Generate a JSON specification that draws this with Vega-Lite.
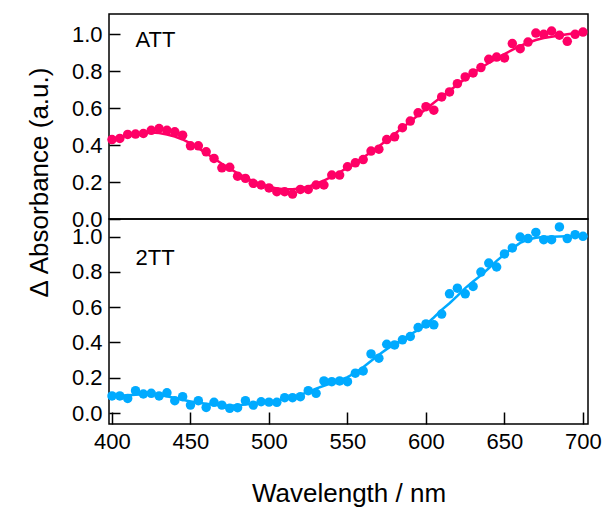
{
  "$schema": "https://vega.github.io/schema/vega-lite/v6.json",
  "autosize": "none",
  "padding": {"left": 109, "top": 14, "right": 495, "bottom": 493},
  "spacing": 0,
  "bounds": "flush",
  "config": {
    "view": {"stroke": "black", "strokeWidth": 1.5},
    "axis": {
      "labelFont": "Liberation Sans", "labelFontSize": 22, "labelColor": "black",
      "titleFont": "Liberation Sans", "titleFontSize": 26, "titleFontWeight": "normal", "titleColor": "black",
      "tickColor": "black", "tickWidth": 1.5, "tickSize": -11, "labelPadding": 18,
      "grid": false, "domain": false, "labelFlush": false, "labelOverlap": false
    },
    "text": {"font": "Liberation Sans"}
  },
  "datasets": {
    "att": [
      {"wl": 400, "v": 0.43}, {"wl": 405, "v": 0.436}, {"wl": 410, "v": 0.458}, {"wl": 415, "v": 0.46}, {"wl": 420, "v": 0.463},
      {"wl": 425, "v": 0.48}, {"wl": 430, "v": 0.49}, {"wl": 435, "v": 0.48}, {"wl": 440, "v": 0.472}, {"wl": 445, "v": 0.454},
      {"wl": 450, "v": 0.396}, {"wl": 455, "v": 0.396}, {"wl": 460, "v": 0.364}, {"wl": 465, "v": 0.328}, {"wl": 470, "v": 0.277},
      {"wl": 475, "v": 0.28}, {"wl": 480, "v": 0.232}, {"wl": 485, "v": 0.22}, {"wl": 490, "v": 0.193}, {"wl": 495, "v": 0.184},
      {"wl": 500, "v": 0.168}, {"wl": 505, "v": 0.148}, {"wl": 510, "v": 0.148}, {"wl": 515, "v": 0.135}, {"wl": 520, "v": 0.16},
      {"wl": 525, "v": 0.16}, {"wl": 530, "v": 0.184}, {"wl": 535, "v": 0.184}, {"wl": 540, "v": 0.238}, {"wl": 545, "v": 0.238},
      {"wl": 550, "v": 0.283}, {"wl": 555, "v": 0.304}, {"wl": 560, "v": 0.322}, {"wl": 565, "v": 0.368}, {"wl": 570, "v": 0.378},
      {"wl": 575, "v": 0.43}, {"wl": 580, "v": 0.445}, {"wl": 585, "v": 0.494}, {"wl": 590, "v": 0.53}, {"wl": 595, "v": 0.575},
      {"wl": 600, "v": 0.608}, {"wl": 605, "v": 0.589}, {"wl": 610, "v": 0.661}, {"wl": 615, "v": 0.688}, {"wl": 620, "v": 0.733},
      {"wl": 625, "v": 0.769}, {"wl": 630, "v": 0.791}, {"wl": 635, "v": 0.82}, {"wl": 640, "v": 0.865}, {"wl": 645, "v": 0.877},
      {"wl": 650, "v": 0.872}, {"wl": 655, "v": 0.95}, {"wl": 660, "v": 0.922}, {"wl": 665, "v": 0.958}, {"wl": 670, "v": 1.007},
      {"wl": 675, "v": 1.0}, {"wl": 680, "v": 1.018}, {"wl": 685, "v": 0.995}, {"wl": 690, "v": 0.962}, {"wl": 695, "v": 1.0},
      {"wl": 700, "v": 1.012}
    ],
    "tt2": [
      {"wl": 400, "v": 0.097}, {"wl": 405, "v": 0.097}, {"wl": 410, "v": 0.083}, {"wl": 415, "v": 0.127}, {"wl": 420, "v": 0.108},
      {"wl": 425, "v": 0.112}, {"wl": 430, "v": 0.097}, {"wl": 435, "v": 0.115}, {"wl": 440, "v": 0.07}, {"wl": 445, "v": 0.093},
      {"wl": 450, "v": 0.045}, {"wl": 455, "v": 0.07}, {"wl": 460, "v": 0.032}, {"wl": 465, "v": 0.061}, {"wl": 470, "v": 0.045},
      {"wl": 475, "v": 0.027}, {"wl": 480, "v": 0.03}, {"wl": 485, "v": 0.07}, {"wl": 490, "v": 0.045}, {"wl": 495, "v": 0.064},
      {"wl": 500, "v": 0.062}, {"wl": 505, "v": 0.061}, {"wl": 510, "v": 0.087}, {"wl": 515, "v": 0.087}, {"wl": 520, "v": 0.093},
      {"wl": 525, "v": 0.127}, {"wl": 530, "v": 0.112}, {"wl": 535, "v": 0.182}, {"wl": 540, "v": 0.178}, {"wl": 545, "v": 0.182},
      {"wl": 550, "v": 0.178}, {"wl": 555, "v": 0.226}, {"wl": 560, "v": 0.239}, {"wl": 565, "v": 0.335}, {"wl": 570, "v": 0.311},
      {"wl": 575, "v": 0.39}, {"wl": 580, "v": 0.386}, {"wl": 585, "v": 0.415}, {"wl": 590, "v": 0.434}, {"wl": 595, "v": 0.485},
      {"wl": 600, "v": 0.505}, {"wl": 605, "v": 0.5}, {"wl": 610, "v": 0.561}, {"wl": 615, "v": 0.676}, {"wl": 620, "v": 0.708},
      {"wl": 625, "v": 0.676}, {"wl": 630, "v": 0.718}, {"wl": 635, "v": 0.799}, {"wl": 640, "v": 0.85}, {"wl": 645, "v": 0.828},
      {"wl": 650, "v": 0.902}, {"wl": 655, "v": 0.936}, {"wl": 660, "v": 0.998}, {"wl": 665, "v": 0.989}, {"wl": 670, "v": 1.024},
      {"wl": 675, "v": 0.983}, {"wl": 680, "v": 0.983}, {"wl": 685, "v": 1.055}, {"wl": 690, "v": 0.989}, {"wl": 695, "v": 1.011},
      {"wl": 700, "v": 1.002}
    ],
    "labels": [
      {"panel": "ATT", "wl": 415, "v": 0.93, "name": "ATT"},
      {"panel": "2TT", "wl": 415, "v": 0.84, "name": "2TT"}
    ]
  },
  "vconcat": [
    {
      "width": 479, "height": 205,
      "encoding": {
        "x": {"field": "wl", "type": "quantitative", "scale": {"domain": [398.1, 703.2], "nice": false, "zero": false}, "axis": null},
        "y": {"field": "v", "type": "quantitative", "scale": {"domain": [0, 1.11], "nice": false},
          "axis": {"values": [0, 0.2, 0.4, 0.6, 0.8, 1.0], "format": ".1f", "title": "Δ Absorbance (a.u.)",
            "titleAngle": -90, "titleX": -62, "titleY": 168, "titleAlign": "center", "titleBaseline": "alphabetic"}}
      },
      "layer": [
        {"data": {"name": "att"}, "transform": [{"loess": "v", "on": "wl", "bandwidth": 0.2}],
         "mark": {"type": "line", "color": "#FF0066", "strokeWidth": 2.5}},
        {"data": {"name": "att"}, "mark": {"type": "circle", "color": "#FF0066", "size": 90, "opacity": 1}},
        {"data": {"name": "labels"}, "transform": [{"filter": "datum.panel === 'ATT'"}],
         "mark": {"type": "text", "align": "left", "baseline": "alphabetic", "fontSize": 22, "color": "black"},
         "encoding": {"text": {"field": "name"}}}
      ]
    },
    {
      "width": 479, "height": 205,
      "encoding": {
        "x": {"field": "wl", "type": "quantitative", "scale": {"domain": [398.1, 703.2], "nice": false, "zero": false},
          "axis": {"values": [400, 450, 500, 550, 600, 650, 700], "title": "Wavelength / nm", "tickSize": -12, "labelPadding": 19, "titlePadding": 28}},
        "y": {"field": "v", "type": "quantitative", "scale": {"domain": [-0.062, 1.1], "nice": false},
          "axis": {"values": [0, 0.2, 0.4, 0.6, 0.8, 1.0], "format": ".1f", "title": null}}
      },
      "layer": [
        {"data": {"name": "tt2"}, "transform": [{"loess": "v", "on": "wl", "bandwidth": 0.15}],
         "mark": {"type": "line", "color": "#00AAFF", "strokeWidth": 2.5}},
        {"data": {"name": "tt2"}, "mark": {"type": "circle", "color": "#00AAFF", "size": 90, "opacity": 1}},
        {"data": {"name": "labels"}, "transform": [{"filter": "datum.panel === '2TT'"}],
         "mark": {"type": "text", "align": "left", "baseline": "alphabetic", "fontSize": 22, "color": "black"},
         "encoding": {"text": {"field": "name"}}}
      ]
    }
  ]
}
